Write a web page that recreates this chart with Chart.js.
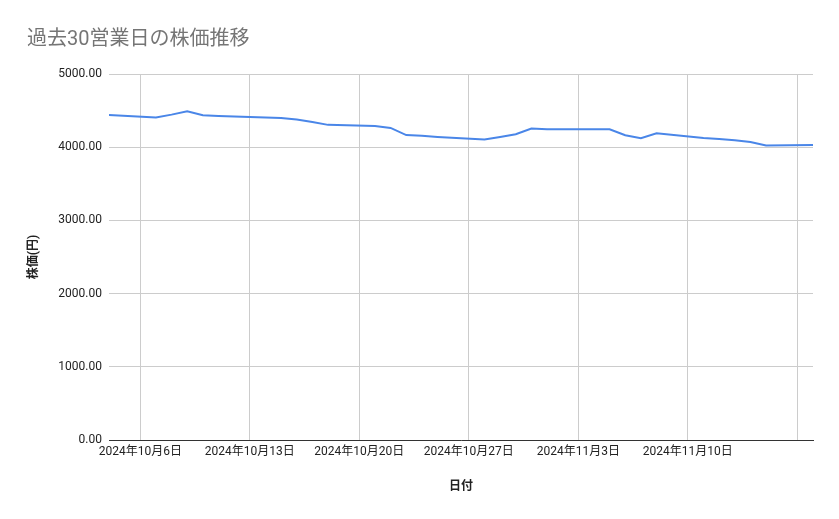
<!DOCTYPE html>
<html>
<head>
<meta charset="utf-8">
<script src="https://cdn.jsdelivr.net/npm/chart.js@4/dist/chart.umd.min.js"></script>
<style>
  html, body { margin: 0; padding: 0; background: #fff; }
  #wrap { width: 839px; height: 519px; }
</style>
</head>
<body>
<div id="wrap"><canvas id="priceChart" width="839" height="519"></canvas></div>
<script>
// 取引日 (30営業日)
const dates = [
    '2024-10-04', '2024-10-07', '2024-10-08', '2024-10-09', '2024-10-10', '2024-10-11',
    '2024-10-15', '2024-10-16', '2024-10-17', '2024-10-18',
    '2024-10-21', '2024-10-22', '2024-10-23', '2024-10-24', '2024-10-25',
    '2024-10-28', '2024-10-29', '2024-10-30', '2024-10-31', '2024-11-01',
    '2024-11-05', '2024-11-06', '2024-11-07', '2024-11-08',
    '2024-11-11', '2024-11-12', '2024-11-13', '2024-11-14', '2024-11-15',
    '2024-11-18'
];
const prices = [
    4440, 4405, 4445, 4490, 4437, 4427,
    4398, 4378, 4345, 4305,
    4290, 4263, 4165, 4155, 4140,
    4105, 4140, 4177, 4255, 4245,
    4245, 4164, 4123, 4190,
    4127, 4113, 4095, 4072, 4022,
    4030
];
// 週ごとの目盛り (日曜日)
const tickDates = ['2024-10-06', '2024-10-13', '2024-10-20', '2024-10-27', '2024-11-03', '2024-11-10', '2024-11-17'];
const tickLabels = ['2024年10月6日', '2024年10月13日', '2024年10月20日', '2024年10月27日', '2024年11月3日', '2024年11月10日', ''];
const yTicks = [0, 1000, 2000, 3000, 4000, 5000];

const DAY = 86400000;
const base = Date.parse(dates[0] + 'T00:00:00Z');
function dayIndex(d) {
    return Math.round((Date.parse(d + 'T00:00:00Z') - base) / DAY);
}

const points = dates.map((d, i) => ({ x: dayIndex(d), y: prices[i] }));
const tickPos = tickDates.map(dayIndex);

const FONT = 'Roboto, "Noto Sans CJK JP", "Noto Sans", sans-serif';

const ctx = document.getElementById('priceChart').getContext('2d');
const myChart = new Chart(ctx, {
    type: 'line',
    data: {
        datasets: [{
            label: '株価',
            data: points,
            borderColor: '#4a86e8',
            borderWidth: 2,
            pointRadius: 0,
            tension: 0,
            fill: false
        }]
    },
    options: {
        responsive: false,
        animation: false,
        devicePixelRatio: 1,
        layout: { padding: { left: 27, right: 26, top: 28, bottom: 0 } },
        plugins: {
            legend: { display: false },
            tooltip: { enabled: false },
            title: {
                display: true,
                text: '過去30営業日の株価推移',
                align: 'start',
                color: '#757575',
                font: { family: FONT, size: 20, weight: 'normal' },
                padding: { top: 0, bottom: 22 }
            }
        },
        scales: {
            x: {
                type: 'linear',
                min: dayIndex(dates[0]),
                max: dayIndex(dates[dates.length - 1]),
                afterBuildTicks: scale => {
                    scale.ticks = tickPos.map(v => ({ value: v }));
                },
                afterFit: scale => { scale.height = 79; },
                ticks: {
                    autoSkip: false,
                    maxRotation: 0,
                    padding: 5,
                    color: '#222',
                    font: { family: FONT, size: 12 },
                    callback: (value, index) => tickLabels[index]
                },
                grid: { color: '#cccccc', drawTicks: false },
                border: { display: true, color: '#333333' },
                title: {
                    display: true,
                    text: '日付',
                    color: '#222',
                    font: { family: FONT, size: 12, weight: 'bold' },
                    padding: { top: 0, bottom: 25 }
                }
            },
            y: {
                min: 0,
                max: 5000,
                afterBuildTicks: scale => {
                    scale.ticks = yTicks.map(v => ({ value: v }));
                },
                afterFit: scale => { scale.width = 82; },
                ticks: {
                    padding: 7,
                    color: '#222',
                    font: { family: FONT, size: 12 },
                    callback: value => value.toFixed(2)
                },
                grid: { color: '#cccccc', drawTicks: false },
                border: { display: false },
                title: {
                    display: true,
                    text: '株価(円)',
                    color: '#222',
                    font: { family: FONT, size: 12, weight: 'bold' },
                    padding: { top: 0, bottom: 0 }
                }
            }
        }
    }
});
</script>
</body>
</html>
